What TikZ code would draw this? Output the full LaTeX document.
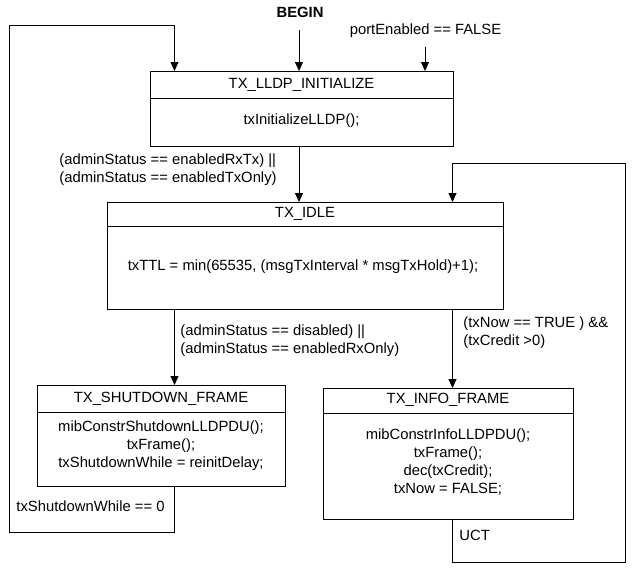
\documentclass[tikz,border=0pt]{standalone}
\usepackage{fontspec}
\setmainfont{Liberation Sans}
\usetikzlibrary{arrows.meta}
\begin{document}
\begin{tikzpicture}[x=1pt,y=-1pt,
  line width=0.9pt,
  every node/.style={font=\fontsize{14.8}{18}\selectfont},
  box/.style={draw, rectangle, inner sep=0pt},
  txt/.style={inner sep=0pt, align=center},
  lbl/.style={inner sep=0pt, align=left, anchor=west},
  arr/.style={-{Triangle[length=9pt,width=8pt]}}]
\useasboundingbox (0,0) rectangle (633,570);

% boxes
\node[box, minimum width=303pt, minimum height=75pt, anchor=north west] (init) at (150,71) {};
\draw (init.west |- 0,98) -- (init.east |- 0,98);
\node[txt] (initT) at (301.5,84.5) {TX\_LLDP\_INITIALIZE};
\node[txt] (initB) at (301.5,121) {txInitializeLLDP();};

\node[box, minimum width=396pt, minimum height=107pt, anchor=north west] (idle) at (107,202) {};
\draw (idle.west |- 0,226) -- (idle.east |- 0,226);
\node[txt] (idleT) at (305,214) {TX\_IDLE};
\node[txt] (idleB) at (303,267) {txTTL = min(65535, (msgTxInterval * msgTxHold)+1);};

\node[box, minimum width=248pt, minimum height=101pt, anchor=north west] (shut) at (37,385) {};
\draw (shut.west |- 0,412) -- (shut.east |- 0,412);
\node[txt] (shutT) at (161,399) {TX\_SHUTDOWN\_FRAME};
\node[txt] (shutB) at (161,446) {mibConstrShutdownLLDPDU();\\txFrame();\\txShutdownWhile = reinitDelay;};

\node[box, minimum width=250pt, minimum height=131pt, anchor=north west] (info) at (323,388) {};
\draw (info.west |- 0,413) -- (info.east |- 0,413);
\node[txt] (infoT) at (448,400) {TX\_INFO\_FRAME};
\node[txt] (infoB) at (448,462.5) {mibConstrInfoLLDPDU();\\txFrame();\\dec(txCredit);\\txNow = FALSE;};

% entry labels
\node[txt, font=\fontsize{14.8}{18}\selectfont\bfseries] (begin) at (300,12) {BEGIN};
\node[txt] (port) at (425.5,31) {portEnabled == FALSE};
\coordinate (b0) at (299,30);
\coordinate (p0) at (425,47);
\draw[arr] (b0) -- (b0 |- init.north);
\draw[arr] (p0) -- (p0 |- init.north);

% init -> idle
\coordinate (i0) at (299,0);
\draw[arr] (i0 |- init.south) -- (i0 |- idle.north);
\node[lbl] (l1) at (59,170) {(adminStatus == enabledRxTx) ||\\(adminStatus == enabledTxOnly)};

% idle -> shutdown
\coordinate (s0) at (174.5,0);
\draw[arr] (s0 |- idle.south) -- (s0 |- shut.north);
\node[lbl] (l2) at (180,340.5) {(adminStatus == disabled) ||\\(adminStatus == enabledRxOnly)};

% idle -> info
\coordinate (f0) at (452.5,0);
\draw[arr] (f0 |- idle.south) -- (f0 |- info.north);
\node[lbl] (l3) at (463,332.5) {(txNow == TRUE ) \&\&\\(txCredit >0)};

% shutdown -> init loop
\coordinate (la) at (174.5,532);
\coordinate (lb) at (9,532);
\coordinate (lc) at (9,25);
\coordinate (ld) at (174.5,25);
\draw[arr] (s0 |- shut.south) -- (la) -- (lb) -- (lc) -- (ld) -- (ld |- init.north);
\node[lbl] (l4) at (16,506) {txShutdownWhile == 0};

% info -> idle loop
\coordinate (ra) at (452.5,562);
\coordinate (rb) at (625,562);
\coordinate (rc) at (625,163);
\coordinate (rd) at (452.5,163);
\draw[arr] (f0 |- info.south) -- (ra) -- (rb) -- (rc) -- (rd) -- (rd |- idle.north);
\node[lbl] (l5) at (459,535) {UCT};
\end{tikzpicture}
\end{document}
